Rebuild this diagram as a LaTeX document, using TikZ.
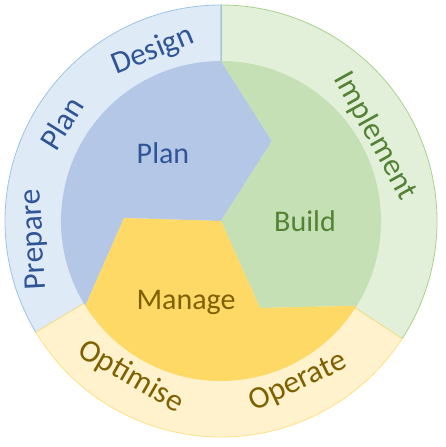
\documentclass[tikz,border=0pt]{standalone}
\usepackage{fontspec}
\setmainfont{Carlito}
\usepackage{tikz}
\usetikzlibrary{positioning, calc}
\definecolor{cyBlueRing}{RGB}{222, 235, 247}
\definecolor{cyBlueLine}{RGB}{157, 195, 230}
\definecolor{cyBlueFill}{RGB}{180, 199, 231}
\definecolor{cyBlueText}{RGB}{47, 85, 151}
\definecolor{cyGreenRing}{RGB}{226, 240, 217}
\definecolor{cyGreenLine}{RGB}{169, 209, 142}
\definecolor{cyGreenFill}{RGB}{197, 224, 180}
\definecolor{cyGreenText}{RGB}{84, 130, 53}
\definecolor{cyYellowRing}{RGB}{255, 242, 204}
\definecolor{cyYellowLine}{RGB}{255, 217, 102}
\definecolor{cyYellowFill}{RGB}{255, 217, 102}
\definecolor{cyYellowText}{RGB}{127, 96, 0}
\tikzset{
    base/.style={
        inner sep=0pt,
        align=center
    },
    ring/.style={
        line width=0.8pt
    },
    phase/.style={
        draw=none
    },
    inlabel/.style={
        base,
        font=\fontsize{30}{34}\selectfont
    },
    outlabel/.style={
        base,
        font=\fontsize{31.5}{35}\selectfont
    }
}

\begin{document}
\begin{tikzpicture}[x=1pt, y=1pt]
  \useasboundingbox (-221,-226) rectangle (224,221);

  % Outer ring
  \draw[ring, fill=cyBlueRing, draw=cyBlueLine]
    (0,0) -- (90:216) arc[start angle=90, end angle=211, radius=216] -- cycle;
  \draw[ring, fill=cyGreenRing, draw=cyGreenLine]
    (0,0) -- (-33:216) arc[start angle=-33, end angle=90, radius=216] -- cycle;
  \draw[ring, fill=cyYellowRing, draw=cyYellowLine!80!white]
    (0,0) -- (211:216) arc[start angle=211, end angle=327, radius=216] -- cycle;
  \draw[ring, cyBlueLine] (0,160) -- (0,216);

  % Inner points
  \coordinate (top) at (90:160);
  \coordinate (notch) at (51,80);
  \coordinate (hub) at (0,0);
  \coordinate (kink) at (-97,3);
  \coordinate (lowleft) at (212:160);
  \coordinate (foot) at (39,-87);
  \coordinate (lowright) at (328:160);

  % Inner phases
  \fill[phase, cyBlueFill] (top) -- (notch) -- (hub) -- (kink) -- (lowleft)
    arc[start angle=212, end angle=90, radius=160] -- cycle;
  \fill[phase, cyGreenFill] (top) -- (notch) -- (hub) -- (foot) -- (lowright)
    arc[start angle=-32, end angle=90, radius=160] -- cycle;
  \fill[phase, cyYellowFill] (kink) -- (hub) -- (foot) -- (lowright)
    arc[start angle=328, end angle=212, radius=160] -- cycle;

  % Inner labels
  \node[inlabel, text=cyBlueText] (planIn) at (-58,68) {Plan};
  \node[inlabel, text=cyGreenText] (buildIn) at (84,0) {Build};
  \node[inlabel, text=cyYellowText] (manageIn) at (-35,-81) {Manage};

  % Outer labels
  \node[outlabel, text=cyBlueText, rotate=22] (designOut) at (111.8:183) {Design};
  \node[outlabel, text=cyBlueText, rotate=58] (planOut) at (148.4:187) {Plan};
  \node[outlabel, text=cyBlueText, rotate=93] (prepareOut) at (185.8:187) {Prepare};
  \node[outlabel, text=cyGreenText, rotate=-61] (implementOut) at (28.8:176) {Implement};
  \node[outlabel, text=cyYellowText, rotate=-30] (optimiseOut) at (240:180) {Optimise};
  \node[outlabel, text=cyYellowText, rotate=25.6] (operateOut) at (295.6:179) {Operate};
\end{tikzpicture}
\end{document}
